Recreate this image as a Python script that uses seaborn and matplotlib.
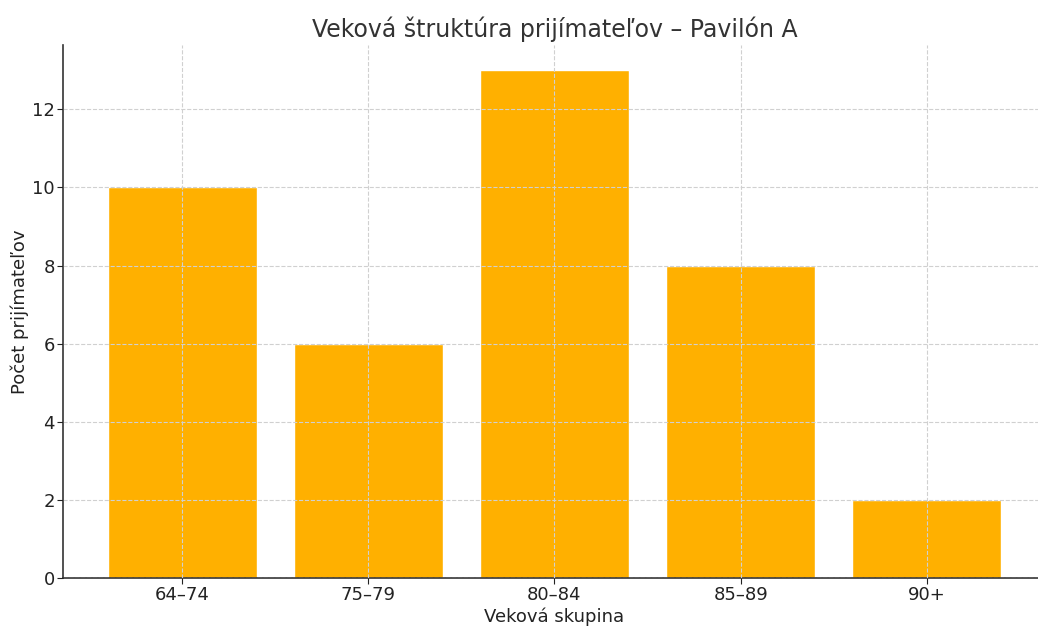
import matplotlib
matplotlib.use('Agg')
import matplotlib.pyplot as plt
import seaborn as sns
import pandas as pd

# Údaje
vekove_skupiny = ['64–74', '75–79', '80–84', '85–89', '90+']
pocty = [10, 6, 13, 8, 2]

df = pd.DataFrame({'skupina': vekove_skupiny, 'pocet': pocty})

sns.set_style("white")
plt.rcParams['font.family'] = ['DejaVu Sans']

fig = plt.figure(figsize=(10.38, 6.28), dpi=100)
ax = fig.add_axes([0.0607, 0.0796, 0.947, 0.849])

sns.barplot(data=df, x='skupina', y='pocet', color='#FFB000',
            saturation=1, width=0.8, ax=ax)

ax.set_xlim(-0.64, 4.64)
ax.set_ylim(0, 13.65)

ax.set_title('Veková štruktúra prijímateľov – Pavilón A', fontsize=17,
             color='#333333', pad=6)
ax.set_xlabel('Veková skupina', fontsize=13, color='#222222', labelpad=2)
ax.set_ylabel('Počet prijímateľov', fontsize=13, color='#222222', labelpad=2)

ax.set_axisbelow(False)
ax.grid(True, linestyle='--', color='#d0d0d0', linewidth=0.8)

for s in ['top', 'right']:
    ax.spines[s].set_visible(False)
for s in ['left', 'bottom']:
    ax.spines[s].set_color('#333333')
    ax.spines[s].set_linewidth(1.2)

ax.tick_params(axis='both', labelsize=13, colors='#222222', length=4,
               pad=2, direction='out', bottom=True, left=True)

fig.savefig('out.png', dpi=100)
plt.close(fig)
